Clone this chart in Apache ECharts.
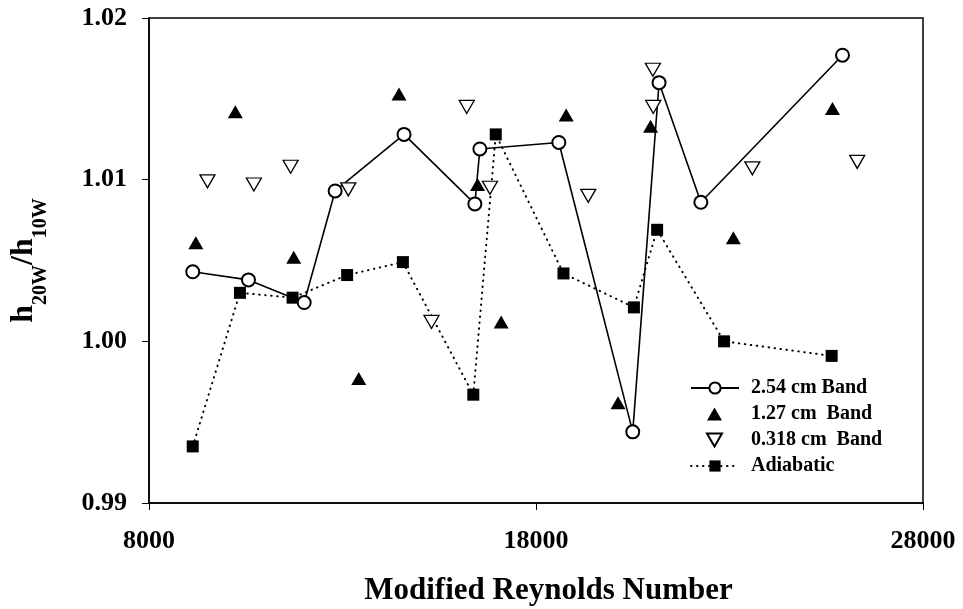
<!DOCTYPE html>
<html>
<head>
<meta charset="utf-8">
<script src="https://cdn.jsdelivr.net/npm/echarts@6/dist/echarts.min.js"></script>
<style>
html,body{margin:0;padding:0;background:#fff;}
#chart{width:963px;height:609px;}
</style>
</head>
<body>
<div id="chart"></div>
<script>
// ---- data ----
const xTickValues = [8000, 18000, 28000];
const yTickValues = [0.99, 1.00, 1.01, 1.02];

const seriesNames = ['2.54 cm Band', '1.27 cm  Band', '0.318 cm  Band', 'Adiabatic'];

const band254X = [9130, 10570, 12010, 12810, 14590, 16420, 16550, 18590, 20500, 21180, 22260, 25920];
const band254Y = [1.0043, 1.0038, 1.0024, 1.0093, 1.0128, 1.0085, 1.0119, 1.0123, 0.9944, 1.0160, 1.0086, 1.0177];

const band127X = [9210, 10230, 11740, 13420, 14460, 16490, 17100, 18780, 20120, 20960, 23100, 25660];
const band127Y = [1.0061, 1.0142, 1.0052, 0.9977, 1.0153, 1.0097, 1.0012, 1.0140, 0.9962, 1.0133, 1.0064, 1.0144];

const band0318X = [9510, 10710, 11660, 13150, 15300, 16210, 16810, 19350, 21020, 21030, 23590, 26300];
const band0318Y = [1.0099, 1.0097, 1.0108, 1.0094, 1.0012, 1.0145, 1.0095, 1.0090, 1.0168, 1.0145, 1.0107, 1.0111];

const adiabaticX = [9130, 10350, 11710, 13120, 14560, 16380, 16960, 18710, 20530, 21130, 22860, 25640];
const adiabaticY = [0.9935, 1.0030, 1.0027, 1.0041, 1.0049, 0.9967, 1.0128, 1.0042, 1.0021, 1.0069, 1.0000, 0.9991];

const zip = (xs, ys) => xs.map((x, i) => [x, ys[i]]);

const FONT = "'Liberation Serif', 'Times New Roman', serif";
const legendText = {fontFamily: FONT, fontWeight: 'bold', fontSize: 20, color: '#000', lineHeight: 26};

const chart = echarts.init(document.getElementById('chart'), null, {renderer: 'canvas'});

chart.setOption({
  backgroundColor: '#ffffff',
  animation: false,
  grid: {
    left: 149, right: 40, top: 18, bottom: 106,
    containLabel: false, outerBoundsMode: 'none',
    show: true, borderColor: '#000', borderWidth: 1.5, backgroundColor: 'transparent'
  },
  xAxis: {
    type: 'value',
    min: 8000, max: 28000,
    name: 'Modified Reynolds Number',
    nameLocation: 'middle',
    nameGap: 72,
    nameTextStyle: {fontFamily: FONT, fontWeight: 'bold', fontSize: 31, color: '#000', padding: [0, 0, 0, 25]},
    axisLine: {show: true, onZero: false, lineStyle: {color: '#000', width: 1.5}},
    axisTick: {show: true, length: 7, lineStyle: {color: '#000', width: 1}, customValues: xTickValues},
    axisLabel: {margin: 25, fontFamily: FONT, fontWeight: 'bold', fontSize: 26, color: '#000',
      customValues: xTickValues, formatter: v => String(v)},
    splitLine: {show: false}
  },
  yAxis: {
    type: 'value',
    min: 0.99, max: 1.02,
    name: '{m|h}{s|20W}{m|/h}{s|10W}',
    nameLocation: 'middle',
    nameRotate: 90,
    nameGap: 109,
    nameTextStyle: {
      color: '#000',
      rich: {
        m: {fontFamily: FONT, fontWeight: 'bold', fontSize: 32, lineHeight: 32, verticalAlign: 'top', color: '#000'},
        s: {fontFamily: FONT, fontWeight: 'bold', fontSize: 20, lineHeight: 20, verticalAlign: 'top', padding: [23, 0, 0, 0], color: '#000'}
      }
    },
    axisLine: {show: true, onZero: false, lineStyle: {color: '#000', width: 1.5}},
    axisTick: {show: true, length: 7, lineStyle: {color: '#000', width: 1}, customValues: yTickValues},
    axisLabel: {margin: 22, fontFamily: FONT, fontWeight: 'bold', fontSize: 26, color: '#000',
      customValues: yTickValues, formatter: v => v.toFixed(2)},
    splitLine: {show: false}
  },
  legend: [
    {
      orient: 'vertical',
      left: 685, top: 370,
      itemWidth: 48, itemHeight: 14, itemGap: 52,
      textStyle: Object.assign({padding: [0, 0, 0, 7]}, legendText),
      data: [seriesNames[0], seriesNames[3]]
    },
    {
      orient: 'vertical',
      left: 701, top: 396,
      itemWidth: 15, itemHeight: 13, itemGap: 0,
      textStyle: Object.assign({padding: [0, 0, 0, 24]}, legendText),
      data: [
        {name: seriesNames[1], icon: 'triangle'},
        {name: seriesNames[2], icon: 'path://M0,0 L15,0 L7.5,13 Z'}
      ]
    }
  ],
  series: [
    {
      name: seriesNames[3], type: 'line', data: zip(adiabaticX, adiabaticY),
      symbol: 'rect', symbolSize: 12, z: 2,
      itemStyle: {color: '#000', opacity: 1},
      lineStyle: {color: '#000', width: 2, type: [0.5, 5.5], cap: 'round'}
    },
    {
      name: seriesNames[0], type: 'line', data: zip(band254X, band254Y),
      symbol: 'emptyCircle', symbolSize: 13, z: 3,
      itemStyle: {color: '#000', borderColor: '#000', borderWidth: 1.3, opacity: 1},
      lineStyle: {color: '#000', width: 1.6}
    },
    {
      name: seriesNames[1], type: 'scatter', data: zip(band127X, band127Y),
      symbol: 'triangle', symbolSize: [15, 13], z: 4,
      itemStyle: {color: '#000', opacity: 1}
    },
    {
      name: seriesNames[2], type: 'scatter', data: zip(band0318X, band0318Y),
      symbol: 'triangle', symbolRotate: 180, symbolSize: [15, 13], z: 4,
      itemStyle: {color: '#fff', borderColor: '#000', borderWidth: 1.3, opacity: 1}
    }
  ]
});
</script>
</body>
</html>
